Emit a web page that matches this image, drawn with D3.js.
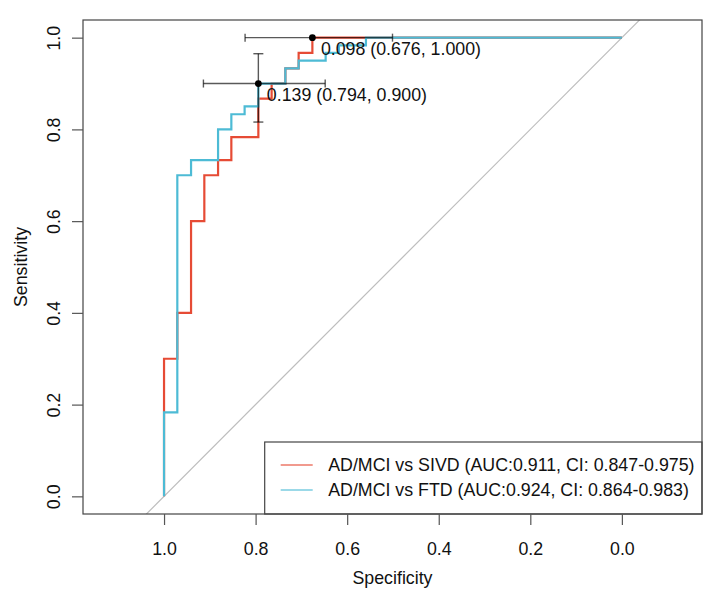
<!DOCTYPE html>
<html>
<head>
<meta charset="utf-8">
<script src="https://cdn.jsdelivr.net/npm/d3@7"></script>
<style>
  body { margin: 0; background: #fff; }
  svg { font-family: "Liberation Sans", Arial, sans-serif; }
</style>
</head>
<body>
<div id="chart"></div>
<script>
// ROC step vertices (specificity, sensitivity)
var sivdSpec = [1.000, 1.000, 0.971, 0.971, 0.941, 0.941, 0.912, 0.912, 0.882, 0.882, 0.853, 0.853, 0.794, 0.794, 0.765, 0.765, 0.735, 0.735, 0.706, 0.706, 0.676, 0.676, 0.000];
var sivdSens = [0.000, 0.300, 0.300, 0.400, 0.400, 0.600, 0.600, 0.700, 0.700, 0.733, 0.733, 0.783, 0.783, 0.867, 0.867, 0.900, 0.900, 0.933, 0.933, 0.967, 0.967, 1.000, 1.000];

var ftdSpec = [1.000, 1.000, 0.971, 0.971, 0.941, 0.941, 0.882, 0.882, 0.853, 0.853, 0.824, 0.824, 0.794, 0.794, 0.735, 0.735, 0.706, 0.706, 0.647, 0.647, 0.618, 0.618, 0.559, 0.559, 0.000];
var ftdSens = [0.000, 0.183, 0.183, 0.700, 0.700, 0.733, 0.733, 0.800, 0.800, 0.833, 0.833, 0.850, 0.850, 0.900, 0.900, 0.933, 0.933, 0.950, 0.950, 0.967, 0.967, 0.983, 0.983, 1.000, 1.000];

// best thresholds with CI
var thrLabels = ["0.098 (0.676, 1.000)", "0.139 (0.794, 0.900)"];
var thrSpec = [0.676, 0.794];
var thrSens = [1.000, 0.900];
var thrSpecLo = [0.823, 0.914];
var thrSpecHi = [0.501, 0.648];
var thrSensLo = [1.000, 0.816];
var thrSensHi = [1.000, 0.965];

var legendLabels = ["AD/MCI vs SIVD (AUC:0.911, CI: 0.847-0.975)", "AD/MCI vs FTD (AUC:0.924, CI: 0.864-0.983)"];
var colors = ["#E64B35", "#4DBBD5"];
var tickValues = [0, 0.2, 0.4, 0.6, 0.8, 1.0];

var W = 723, H = 600;
var margin = {top: 20, right: 21, bottom: 86, left: 83};
var fs = "17.8px";

var svg = d3.select("#chart").append("svg")
    .attr("width", W)
    .attr("height", H)
    .style("background", "#fff");

var x = d3.scaleLinear()
    .domain([1.177, -0.175])
    .range([margin.left, W - margin.right]);
var y = d3.scaleLinear()
    .domain([-0.0385, 1.0385])
    .range([H - margin.bottom, margin.top]);

svg.append("clipPath").attr("id", "plotclip")
  .append("rect")
    .attr("x", margin.left).attr("y", margin.top)
    .attr("width", W - margin.left - margin.right)
    .attr("height", H - margin.top - margin.bottom);

var plot = svg.append("g").attr("clip-path", "url(#plotclip)");

// diagonal reference line
plot.append("line")
    .attr("x1", x(1.2)).attr("y1", y(-0.2))
    .attr("x2", x(-0.2)).attr("y2", y(1.2))
    .style("stroke", "#bdbdbd")
    .style("stroke-width", 1.2);

var line = d3.line()
    .x(function(d) { return x(d[0]); })
    .y(function(d) { return y(d[1]); });

var curves = [d3.zip(sivdSpec, sivdSens), d3.zip(ftdSpec, ftdSens)];

plot.selectAll("path.roc")
  .data(curves)
  .enter().append("path")
    .attr("class", "roc")
    .attr("d", line)
    .style("fill", "none")
    .style("stroke", function(d, i) { return colors[i]; })
    .style("stroke-width", 2.2);

// CI error bars
var ci = plot.append("g")
    .style("stroke", "#000")
    .style("stroke-opacity", 0.65)
    .style("stroke-width", 1.4);

for (var i = 0; i < thrSpec.length; i++) {
  var cy = y(thrSens[i]), cx = x(thrSpec[i]);
  ci.append("line")
    .attr("x1", x(thrSpecLo[i])).attr("x2", x(thrSpecHi[i]))
    .attr("y1", cy).attr("y2", cy);
  [thrSpecLo[i], thrSpecHi[i]].forEach(function(v) {
    ci.append("line")
      .attr("x1", x(v)).attr("x2", x(v))
      .attr("y1", cy - 4).attr("y2", cy + 4);
  });
  if (thrSensLo[i] != thrSensHi[i]) {
    ci.append("line")
      .attr("x1", cx).attr("x2", cx)
      .attr("y1", y(thrSensLo[i])).attr("y2", y(thrSensHi[i]));
    [thrSensLo[i], thrSensHi[i]].forEach(function(v) {
      ci.append("line")
        .attr("x1", cx - 5).attr("x2", cx + 5)
        .attr("y1", y(v)).attr("y2", y(v));
    });
  }
}

// threshold points and labels
svg.selectAll("circle.thr")
  .data(thrSpec)
  .enter().append("circle")
    .attr("class", "thr")
    .attr("cx", function(d) { return x(d); })
    .attr("cy", function(d, i) { return y(thrSens[i]); })
    .attr("r", 3.4)
    .style("fill", "#000");

svg.selectAll("text.thr")
  .data(thrLabels)
  .enter().append("text")
    .attr("class", "thr")
    .attr("x", function(d, i) { return x(thrSpec[i]) + 8.5; })
    .attr("y", function(d, i) { return y(thrSens[i]) + 17.5; })
    .style("font-size", fs)
    .style("fill", "#111")
    .text(function(d) { return d; });

// legend
var lg = svg.append("g");
var lgLeft = 264.7, lgTop = 442;
lg.append("rect")
    .attr("x", lgLeft).attr("y", lgTop)
    .attr("width", W - margin.right - lgLeft)
    .attr("height", H - margin.bottom - lgTop)
    .style("fill", "#fff")
    .style("stroke", "#444")
    .style("stroke-width", 1.2);

legendLabels.forEach(function(t, i) {
  var ly = lgTop + 23 + i * 25;
  lg.append("line")
    .attr("x1", lgLeft + 16).attr("x2", lgLeft + 48)
    .attr("y1", ly).attr("y2", ly)
    .style("stroke", colors[i])
    .style("stroke-opacity", 0.75)
    .style("stroke-width", 1.5);
  lg.append("text")
    .attr("x", lgLeft + 63.5)
    .attr("y", ly + 6.3)
    .style("font-size", fs)
    .style("fill", "#111")
    .text(t);
});

// box
svg.append("rect")
    .attr("x", margin.left).attr("y", margin.top)
    .attr("width", W - margin.left - margin.right)
    .attr("height", H - margin.top - margin.bottom)
    .style("fill", "none")
    .style("stroke", "#444")
    .style("stroke-width", 1.2);

// x axis
var xAxis = svg.append("g")
    .attr("transform", "translate(0," + (H - margin.bottom) + ")")
    .call(d3.axisBottom(x).tickValues(tickValues).tickSize(11).tickFormat(d3.format(".1f")));
xAxis.select(".domain").remove();
xAxis.selectAll("line").style("stroke", "#555").style("stroke-width", 1.2);
xAxis.selectAll("text")
    .attr("y", 40.5).attr("dy", null)
    .style("font-size", fs)
    .style("fill", "#111")
    .style("font-family", "Liberation Sans, Arial, sans-serif");

// y axis
var yAxis = svg.append("g")
    .attr("transform", "translate(" + margin.left + ",0)")
    .call(d3.axisLeft(y).tickValues(tickValues).tickSize(11).tickFormat(d3.format(".1f")));
yAxis.select(".domain").remove();
yAxis.selectAll("line").style("stroke", "#555").style("stroke-width", 1.2);
yAxis.selectAll("text")
    .attr("x", null).attr("dy", null)
    .attr("text-anchor", "middle")
    .attr("transform", "translate(-23,0) rotate(-90)")
    .style("font-size", fs)
    .style("fill", "#111")
    .style("font-family", "Liberation Sans, Arial, sans-serif");

// axis titles
svg.append("text")
    .attr("x", (margin.left + W - margin.right) / 2)
    .attr("y", 584)
    .attr("text-anchor", "middle")
    .style("font-size", fs)
    .style("fill", "#111")
    .text("Specificity");

svg.append("text")
    .attr("text-anchor", "middle")
    .attr("transform", "translate(27," + ((margin.top + H - margin.bottom) / 2) + ") rotate(-90)")
    .style("font-size", fs)
    .style("fill", "#111")
    .text("Sensitivity");
</script>
</body>
</html>
